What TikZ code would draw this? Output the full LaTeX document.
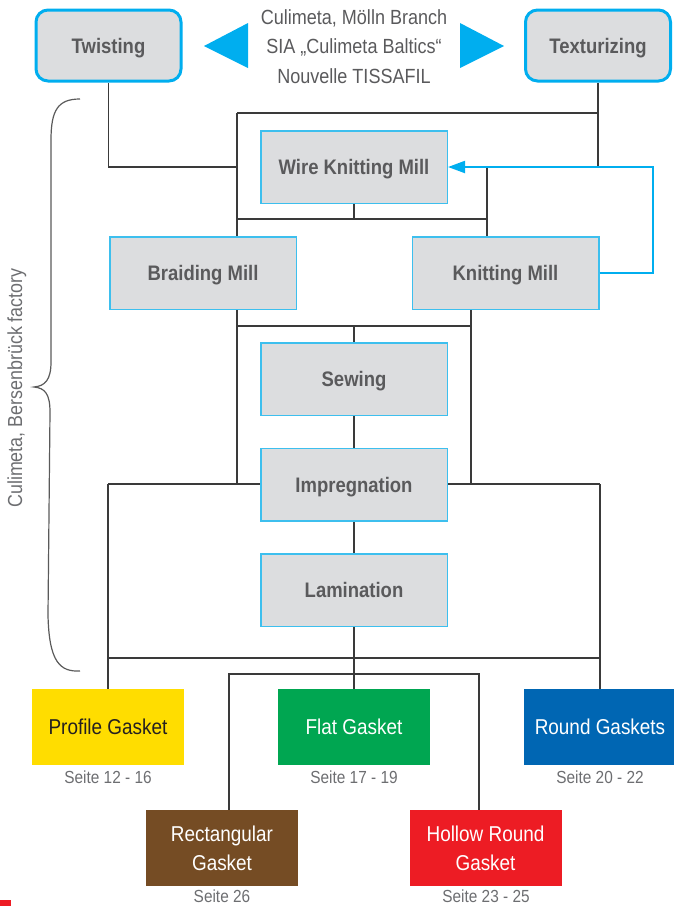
\documentclass[tikz,border=0pt]{standalone}
\usepackage{fontspec}
\setmainfont{Liberation Sans}[FakeStretch=0.88]
\usetikzlibrary{arrows.meta}
\definecolor{cyanb}{HTML}{3DBFEE}
\definecolor{cyanf}{HTML}{00AEEF}
\definecolor{boxg}{HTML}{DCDDDF}
\definecolor{txtg}{HTML}{5A5A5C}
\definecolor{pageg}{HTML}{6D6E71}
\definecolor{lineg}{HTML}{3A3A3A}
\definecolor{bracec}{HTML}{5A5A5A}
\definecolor{ylw}{HTML}{FFDD00}
\definecolor{grn}{HTML}{00A651}
\definecolor{blu}{HTML}{0066B3}
\definecolor{brn}{HTML}{754C24}
\definecolor{rd}{HTML}{ED1C24}
\definecolor{dark}{HTML}{231F20}
\pgfdeclarelayer{bg}\pgfsetlayers{bg,main}
\begin{document}
\begin{tikzpicture}[x=1pt,y=-1pt,
 topbox/.style={draw=cyanf, line width=3pt, fill=boxg, rounded corners=12pt, minimum width=145pt, minimum height=71pt, inner sep=0pt, text=txtg, text height=15pt, text depth=0pt, font=\fontsize{21}{25}\selectfont\bfseries},
 millbox/.style={draw=cyanb, line width=1.5pt, fill=boxg, minimum width=186.5pt, minimum height=72.5pt, inner sep=0pt, text=txtg, text height=15pt, text depth=0pt, font=\fontsize{21}{25}\selectfont\bfseries},
 gasket/.style={fill=#1, minimum width=152pt, minimum height=76pt, inner sep=0pt, text=white, align=center, font=\fontsize{21.5}{29}\selectfont},
 pagelbl/.style={text=pageg, font=\fontsize{17.5}{20}\selectfont, inner sep=0pt},
 conn/.style={draw=lineg, line width=1.4pt},
 feedback/.style={draw=cyanf, line width=2pt, -{Triangle[length=17pt,width=12pt]}},
 tri/.style={fill=cyanf}]
\useasboundingbox (0,0) rectangle (674,906);

% top row
\node[topbox] (tw) at (108.5,45.5) {Twisting};
\node[topbox] (tx) at (598,45.5) {Texturizing};
\node[text=txtg, align=center, inner sep=0pt, font=\fontsize{20.5}{29.5}\selectfont] (loc) at (354,46.5) {Culimeta, Mölln Branch\\SIA „Culimeta Baltics“\\Nouvelle TISSAFIL};
\fill[tri] (204,46) -- (248,23) -- (248,68) -- cycle;
\fill[tri] (504,46) -- (460,23) -- (460,68) -- cycle;

% mills
\node[millbox] (wkm) at (354,167) {Wire Knitting Mill};
\node[millbox] (br) at (203,273) {Braiding Mill};
\node[millbox] (km) at (505.5,273) {Knitting Mill};
\node[millbox] (sew) at (354,379) {Sewing};
\node[millbox] (imp) at (354,484.5) {Impregnation};
\node[millbox] (lam) at (354,590) {Lamination};

% gaskets
\node[gasket=ylw, text=dark] (pg) at (108,727) {Profile Gasket};
\node[gasket=grn] (fg) at (354,727) {Flat Gasket};
\node[gasket=blu] (rg) at (600,727) {Round Gaskets};
\node[gasket=brn] (rc) at (222,848) {Rectangular\\Gasket};
\node[gasket=rd] (hr) at (485.5,848) {Hollow Round\\Gasket};

\node[pagelbl] (p1) at (108,777) {Seite 12 - 16};
\node[pagelbl] (p2) at (354,777) {Seite 17 - 19};
\node[pagelbl] (p3) at (600,777) {Seite 20 - 22};
\node[pagelbl] (p4) at (222,896) {Seite 26};
\node[pagelbl] (p5) at (486,896) {Seite 23 - 25};

% side label and brace
\node[rotate=90, text=pageg, inner sep=0pt, font=\fontsize{20.3}{22}\selectfont] (fac) at (17,388) {Culimeta, Bersenbrück factory};
\draw[bracec, line width=1.2pt] (80,99) .. controls (58,99) and (51,110) .. (51,140)
  -- (51,362) .. controls (51,380) and (45,386) .. (34,387)
  .. controls (45,388) and (50,394) .. (50,412)
  -- (48,615) .. controls (49,662) and (60,672) .. (80,671);

\fill[rd] (0,900) rectangle (11,906);

% junction coordinates
\coordinate (n1) at (237,113);
\coordinate (n2) at (237,167);
\coordinate (n3) at (487,167);
\coordinate (n4) at (653,167);
\coordinate (n6) at (237,219);
\coordinate (n7) at (487,219);
\coordinate (m1) at (237,326);
\coordinate (m2) at (471,326);
\coordinate (b1) at (108,484);
\coordinate (b2) at (600,484);
\coordinate (c1) at (108,658);
\coordinate (c2) at (600,658);
\coordinate (d1) at (229,674);
\coordinate (d2) at (479,674);

\begin{pgfonlayer}{bg}
\draw[conn] (tw.south) |- (n2);
\draw[conn] (n1) -- (n1 -| tx.south);
\draw[conn] (tx.south) -- (tx.south |- n3);
\draw[conn] (n1) -- (n1 |- br.north);
\draw[conn] (wkm.south) -- (wkm.south |- n6);
\draw[conn] (n6) -- (n7);
\draw[conn] (n3) -- (n3 |- km.north);
\draw[conn] (br.south -| n1) -- (n1 |- b1);
\draw[conn] (km.south -| m2) -- (m2 |- b1);
\draw[conn] (m1) -- (m2);
\draw[conn] (sew.north |- m1) -- (sew.north);
\draw[conn] (sew.south) -- (imp.north);
\draw[conn] (imp.south) -- (lam.north);
\draw[conn] (b1) -- (b2);
\draw[conn] (b1) -- (pg.north);
\draw[conn] (b2) -- (rg.north);
\draw[conn] (c1) -- (c2);
\draw[conn] (lam.south) -- (fg.north);
\draw[conn] (d1 |- rc.north) -- (d1) -- (d2) -- (d2 |- hr.north);
\end{pgfonlayer}
\draw[feedback] (km.east) -| (n4) -- (wkm.east);
\end{tikzpicture}
\end{document}
